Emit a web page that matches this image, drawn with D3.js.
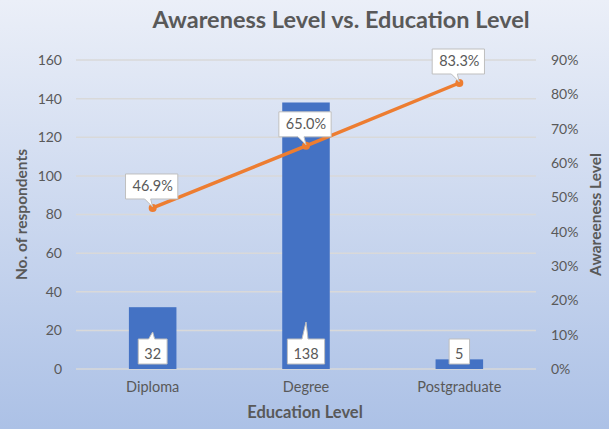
<!DOCTYPE html>
<html>
<head>
<meta charset="utf-8">
<title>Awareness Level vs. Education Level</title>
<style>
  body { margin: 0; }
  svg { display: block; font-family: Lato, "Open Sans", sans-serif; }
</style>
</head>
<body>
<script src="https://cdn.jsdelivr.net/npm/d3@7"></script>
<script>
// data
var categories = ["Diploma", "Degree", "Postgraduate"];
var respondents = [32, 138, 5];
var awareness = [0.469, 0.650, 0.833];
var countTicks = [0, 20, 40, 60, 80, 100, 120, 140, 160];
var pctTicks = [0, 0.1, 0.2, 0.3, 0.4, 0.5, 0.6, 0.7, 0.8, 0.9];

var W = 609, H = 429;
var margin = {top: 60, right: 73, bottom: 60, left: 76},
    width = W - margin.left - margin.right,
    height = H - margin.top - margin.bottom;

var svg = d3.select("body").append("svg")
  .attr("width", W).attr("height", H);

// background gradient
var grad = svg.append("defs").append("linearGradient")
  .attr("id", "bg").attr("x1", 0).attr("y1", 0).attr("x2", 0).attr("y2", 1);
grad.append("stop").attr("offset", "0%").attr("stop-color", "#ebeff8");
grad.append("stop").attr("offset", "100%").attr("stop-color", "#acc1e6");
svg.append("rect").attr("width", W).attr("height", H).attr("fill", "url(#bg)");

var chart = svg.append("g")
  .attr("transform", "translate(" + margin.left + "," + margin.top + ")");

// scales
var x = d3.scaleBand().domain(categories).range([0, width])
  .paddingInner(0.69).paddingOuter(0.345);
var y = d3.scaleLinear().domain([0, 160]).range([height, 0]);
var y2 = d3.scaleLinear().domain([0, 0.9]).range([height, 0]);

var textColor = "#595959";

// gridlines
chart.append("g").selectAll("line").data(countTicks).enter().append("line")
  .attr("x1", 0).attr("x2", width)
  .attr("y1", function(d){ return y(d); }).attr("y2", function(d){ return y(d); })
  .attr("stroke", "#d9d9d9").attr("stroke-width", 1.5);

// left axis
var leftAxis = chart.append("g")
  .call(d3.axisLeft(y).tickValues(countTicks).tickSize(0).tickPadding(14));
leftAxis.select(".domain").remove();
leftAxis.selectAll("text").attr("fill", textColor).style("font-size", "14px")
  .style("font-family", "Lato, sans-serif");

// right axis
var rightAxis = chart.append("g")
  .attr("transform", "translate(" + width + ",0)")
  .call(d3.axisRight(y2).tickValues(pctTicks).tickSize(0).tickPadding(15)
    .tickFormat(d3.format(".0%")));
rightAxis.select(".domain").remove();
rightAxis.selectAll("text").attr("fill", textColor).style("font-size", "14px")
  .style("font-family", "Lato, sans-serif");

// bottom axis
var bottomAxis = chart.append("g")
  .attr("transform", "translate(0," + height + ")")
  .call(d3.axisBottom(x).tickSize(0).tickPadding(13));
bottomAxis.select(".domain").remove();
bottomAxis.selectAll("text").attr("fill", textColor).style("font-size", "14.5px")
  .style("font-family", "Lato, sans-serif");

// bars
chart.selectAll("rect.bar").data(categories).enter().append("rect")
  .attr("class", "bar")
  .attr("x", function(d){ return x(d); })
  .attr("width", x.bandwidth())
  .attr("y", function(d, i){ return y(respondents[i]); })
  .attr("height", function(d, i){ return height - y(respondents[i]); })
  .attr("fill", "#4472c4");

// line
var cx = function(d, i){ return x(categories[i]) + x.bandwidth() / 2; };
var line = d3.line().x(cx).y(function(d){ return y2(d); });
chart.append("path").datum(awareness)
  .attr("d", line).attr("fill", "none")
  .attr("stroke", "#ed7d31").attr("stroke-width", 3.5);
chart.selectAll("circle.pt").data(awareness).enter().append("circle")
  .attr("cx", cx).attr("cy", function(d){ return y2(d); })
  .attr("r", 4).attr("fill", "#ed7d31");

// callout: box (bx,by,bw,bh) with wedge from base [a,b] on edge to tip (tx,ty)
function callout(bx, by, bw, bh, a, b, tx, ty, side) {
  var p = d3.path();
  p.moveTo(bx, by);
  if (side === "top" && tx !== null) {
    p.lineTo(a, by); p.lineTo(tx, ty); p.lineTo(b, by);
  }
  p.lineTo(bx + bw, by);
  p.lineTo(bx + bw, by + bh);
  if (side === "bottom" && tx !== null) {
    p.lineTo(b, by + bh); p.lineTo(tx, ty); p.lineTo(a, by + bh);
  }
  p.lineTo(bx, by + bh);
  p.closePath();
  return p.toString();
}

var labels = chart.append("g");

// line labels
awareness.forEach(function(v, i){
  var px = cx(v, i), py = y2(v);
  var t = labels.append("text").text(d3.format(".1%")(v))
    .attr("x", px).attr("y", py - 17)
    .attr("text-anchor", "middle")
    .attr("fill", textColor).style("font-size", "14.5px");
  var bb = t.node().getBBox();
  var bw = bb.width + 12, bh = 25;
  var bx = px - bw / 2 - 1, by = py - 34;
  labels.insert("path", "text")
    .attr("d", callout(bx, by, bw, bh, px - 8, px - 2, px, py - 1, "bottom"))
    .attr("fill", "#fff").attr("stroke", "#bfbfbf").attr("stroke-width", 1);
});

// bar labels
respondents.forEach(function(v, i){
  var px = x(categories[i]) + x.bandwidth() / 2;
  var t = labels.append("text").text(v)
    .attr("x", px).attr("y", height - 10)
    .attr("text-anchor", "middle")
    .attr("fill", textColor).style("font-size", "14.5px");
  var bb = t.node().getBBox();
  var bw = bb.width + 12, bh = 25;
  var bx = px - bw / 2, by = height - 30;
  var tipY = i === 0 ? height - 37 : (i === 1 ? height - 47 : null);
  labels.insert("path", "text")
    .attr("d", callout(bx, by, bw, bh, px - 4, px + 2, tipY === null ? null : px, tipY, "top"))
    .attr("fill", "#fff").attr("stroke", "#bfbfbf").attr("stroke-width", 1);
});

// title
svg.append("text")
  .attr("x", 341).attr("y", 28)
  .attr("text-anchor", "middle")
  .attr("fill", textColor)
  .style("font-size", "23.5px").style("font-weight", "bold")
  .text("Awareness Level vs. Education Level");

// axis titles
svg.append("text")
  .attr("transform", "translate(27," + (margin.top + height / 2) + ") rotate(-90)")
  .attr("text-anchor", "middle").attr("fill", textColor)
  .style("font-size", "15.5px").style("font-weight", "bold")
  .text("No. of respondents");

svg.append("text")
  .attr("transform", "translate(601," + (margin.top + height / 2) + ") rotate(-90)")
  .attr("text-anchor", "middle").attr("fill", textColor)
  .style("font-size", "15.5px").style("font-weight", "bold")
  .text("Awareeness Level");

svg.append("text")
  .attr("x", 305).attr("y", 418)
  .attr("text-anchor", "middle").attr("fill", textColor)
  .style("font-size", "16.5px").style("font-weight", "bold")
  .text("Education Level");
</script>
</body>
</html>
